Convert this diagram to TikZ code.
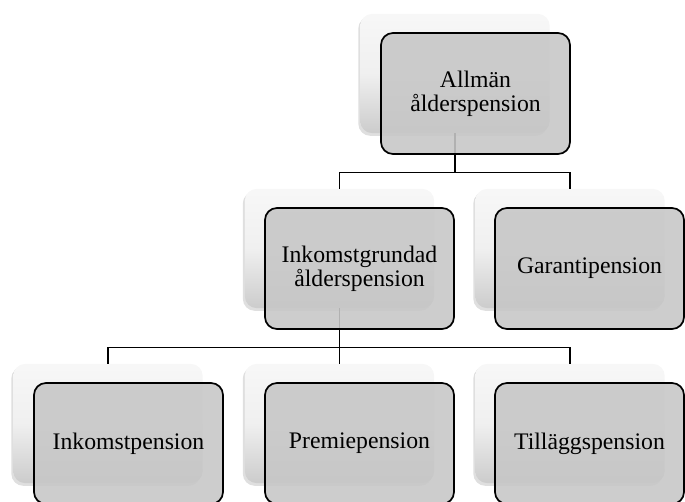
\documentclass[tikz,border=0pt]{standalone}
\usepackage{fontspec}
\setmainfont{Liberation Serif}
\usetikzlibrary{shadows}

\tikzset{
  back/.style={rectangle, rounded corners=9pt, minimum width=142pt, minimum height=89.5pt,
    top color=white!97!black, bottom color=white!80!black, middle color=white!94!black,
    drop shadow={shadow xshift=-1.5pt, shadow yshift=-2pt, opacity=0.25}},
  front/.style={rectangle, draw, rounded corners=9pt, line width=1.3pt,
    fill=black!22, fill opacity=0.89, text opacity=1,
    minimum width=141.75pt, minimum height=90.75pt, align=center,
    font=\fontsize{17.8}{18}\selectfont},
  link/.style={line width=1.3pt}
}

\begin{document}
\begin{tikzpicture}[x=0.75pt, y=-0.75pt]
	\useasboundingbox (0,0) rectangle (685,502);
	% back boxes
	\node[back] (allmS) at (455,73.5) {};
	\node[back] (inkgS) at (339.5,248.5) {};
	\node[back] (garS) at (570,248.5) {};
	\node[back] (inkpS) at (108,423.5) {};
	\node[back] (premS) at (339.5,423.5) {};
	\node[back] (tillS) at (570,423.5) {};
	% connectors
	\draw[link] (allmS.south) -- ++(0,39) coordinate (j1);
	\draw[link] (j1) -| (inkgS.north);
	\draw[link] (j1) -| (garS.north);
	\draw[link] (inkgS.south) -- ++(0,39) coordinate (j2);
	\foreach \n in {inkpS,premS,tillS}{
		\draw[link] (j2) -| (\n.north);
	}
	% front boxes
	\node[front] (allm) at (475.5,93.5) {Allmän\\ålderspension};
	\node[front] (inkg) at (359.5,268.5) {Inkomstgrundad\\ålderspension};
	\node[front] (gar) at (589.5,268.5) {Garantipension};
	\node[front] (inkp) at (128.5,443.5) {Inkomstpension};
	\node[front] (prem) at (359.5,443.5) {Premiepension};
	\node[front] (till) at (589.5,443.5) {Tilläggspension};
\end{tikzpicture}
\end{document}
